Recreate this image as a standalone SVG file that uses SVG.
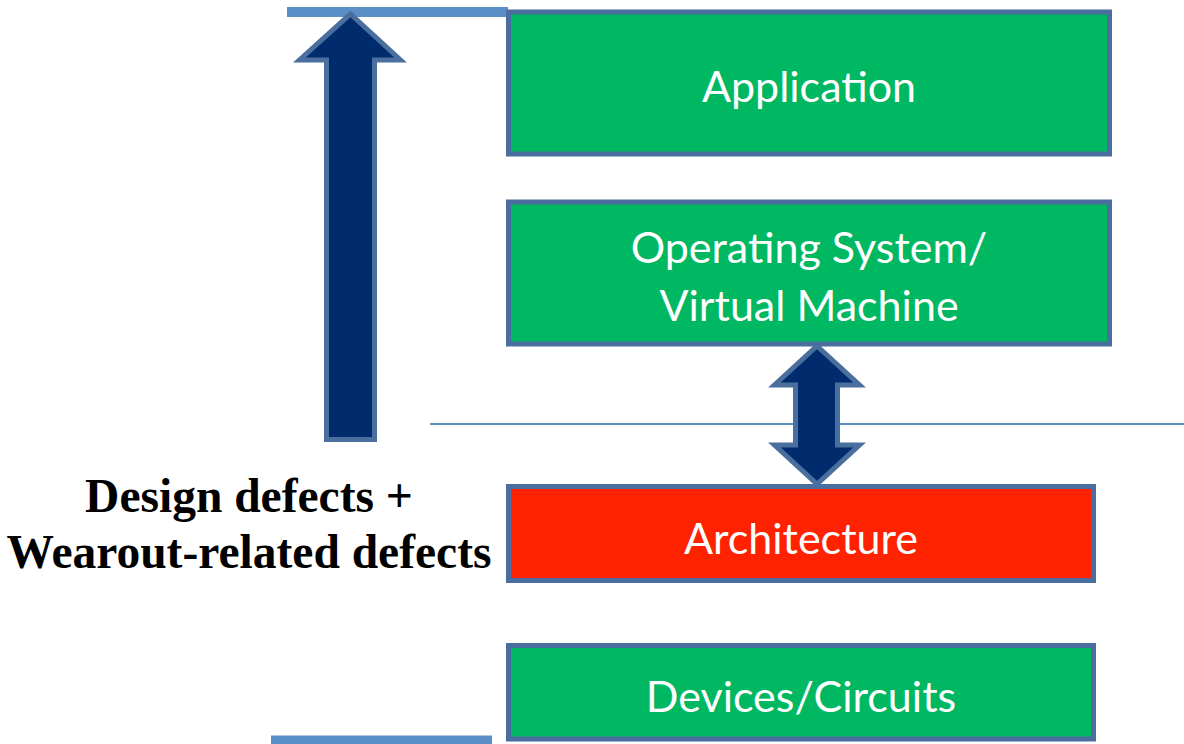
<svg xmlns="http://www.w3.org/2000/svg" width="1184" height="744" viewBox="0 0 1184 744">
  <style>
    .box { stroke: #4a6e9d; stroke-width: 5; }
    .green { fill: #00b862; }
    .red { fill: #ff2200; }
    .lbl { font-family: Lato, "Open Sans", sans-serif; font-size: 43px; fill: #ffffff; text-anchor: middle; }
    .arrow { fill: #002c6d; stroke: #4a6e9d; stroke-width: 5; stroke-linejoin: miter; }
    .line { stroke: #5b8fc8; fill: none; }
    .side { font-family: "Liberation Serif", "Times New Roman", serif; font-weight: bold; font-size: 47.5px; fill: #000000; text-anchor: middle; }
  </style>
  <rect width="1184" height="744" fill="#ffffff"/>
  <g id="connectors">
    <line class="line" x1="430" y1="424" x2="1184" y2="424" stroke-width="2"/>
    <line class="line" x1="287" y1="12" x2="508" y2="12" stroke-width="10"/>
    <line class="line" x1="271" y1="740" x2="492" y2="740" stroke-width="9"/>
    <polygon id="up-arrow" class="arrow" points="350.5,14 400.5,60 374.5,60 374.5,439.5 326.5,439.5 326.5,60 299.5,60"/>
    <polygon id="double-arrow" class="arrow" points="817,346 859.5,385 837.5,385 837.5,445 859.5,445 817,484 774.5,445 795.5,445 795.5,385 774.5,385"/>
  </g>
  <g id="application">
    <rect class="box green" x="508.5" y="12" width="601" height="142"/>
    <text class="lbl" x="809" y="102">Application</text>
  </g>
  <g id="os">
    <rect class="box green" x="508.5" y="202" width="601" height="142"/>
    <text class="lbl" x="809" y="263">Operating System/</text>
    <text class="lbl" x="809" y="321">Virtual Machine</text>
  </g>
  <g id="architecture">
    <rect class="box red" x="508.5" y="486.5" width="585" height="94"/>
    <text class="lbl" x="801" y="554">Architecture</text>
  </g>
  <g id="devices">
    <rect class="box green" x="508.5" y="645.5" width="585" height="93.5"/>
    <text class="lbl" x="801" y="712">Devices/Circuits</text>
  </g>
  <g id="defects-label">
    <text class="side" x="249" y="512">Design defects +</text>
    <text class="side" x="249" y="568">Wearout-related defects</text>
  </g>
</svg>
